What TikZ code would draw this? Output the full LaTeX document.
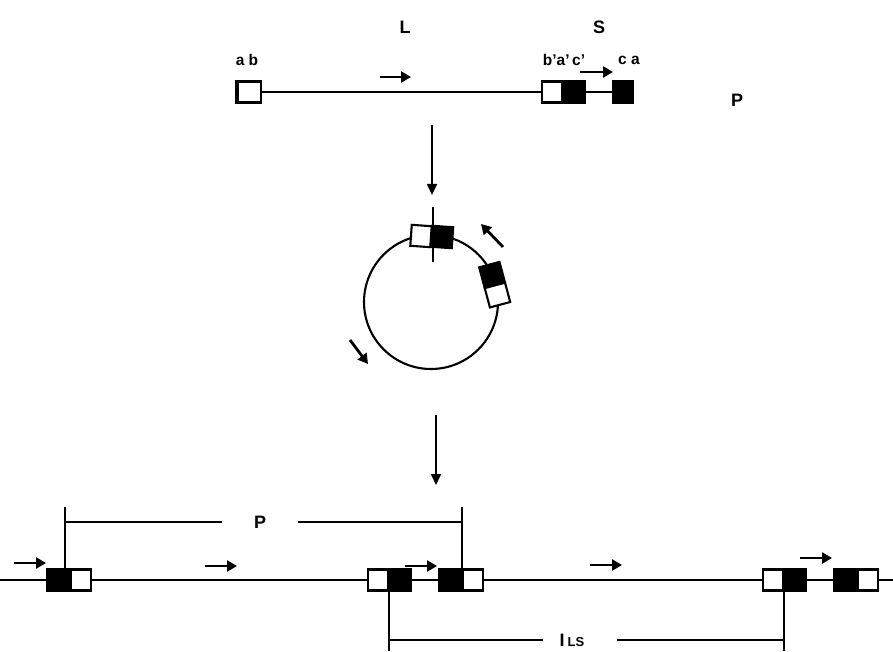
\documentclass[tikz,border=0pt]{standalone}
\usepackage{fontspec}
\setmainfont{Liberation Sans}
\usetikzlibrary{arrows.meta,positioning,calc}

\begin{document}
\begin{tikzpicture}[x=1pt,y=1pt,line width=2.1pt,font=\bfseries,node distance=0pt]
  \tikzset{
    whalf/.style={draw,fill=white,minimum width=20pt,minimum height=21pt,inner sep=0pt},
    bhalf/.style={draw,fill=black,minimum width=21pt,minimum height=21pt,inner sep=0pt},
    lbl/.style={font=\fontsize{15.5}{18}\selectfont\bfseries,inner sep=0pt},
    big/.style={font=\fontsize{18}{21}\selectfont\bfseries,inner sep=0pt},
    dir/.style={line width=2.8pt,-{Triangle[length=10pt,width=11pt]}},
    vert arrow/.style={line width=1.8pt,-{Triangle[length=11pt,width=10pt]}}
  }
  \useasboundingbox (0,0) rectangle (893,651);
  % linear monomer
  \node[whalf,minimum width=24pt] (ab) at (249,559) {};
  \draw[line width=4pt] ([xshift=1.5pt]ab.north west) -- ([xshift=1.5pt]ab.south west);
  \node[whalf] (bp) at (552,559) {};
  \node[bhalf,right=of bp] (ap) {};
  \node[bhalf,minimum width=19pt] (ca) at (623,559) {};
  \draw (ab.east) -- (bp.west);
  \draw (ap.east) -- (ca.west);
  \node[lbl] at (247,591) {a b};
  \node[lbl] at (564,591) {b'a'\,c'};
  \node[lbl] at (629,591) {c a};
  \node[big] at (405,624) {L};
  \node[big] at (599,624) {S};
  \node[big] at (737,551) {P};
  \draw[dir] (380,574) -- (411,574);
  \draw[dir] (580,579) -- (613,579);
  % circularisation
  \coordinate (s1) at (432,526);
  \coordinate (e1) at (432,456);
  \draw[vert arrow] (s1) -- (e1);
  \node[circle,draw,minimum size=134pt,inner sep=0pt] (ring) at (431,349) {};
  \node[whalf,rotate=-4] (cw) at (421,415) {};
  \node[bhalf,rotate=-4] (cb) at (442,414) {};
  \draw[line width=1.8pt] (433,444) -- (433,389);
  \coordinate (side) at ($(ring.center)+(15:66)$);
  \node[bhalf,rotate=105] (sb) at ([shift={(105:10.5)}]side) {};
  \node[whalf,rotate=105] (sw) at ([shift={(-75:10.5)}]side) {};
  \draw[dir] (503,404) -- (481,427);
  \draw[dir] (350,311) -- (368,287);
  \coordinate (s2) at (436,236);
  \coordinate (e2) at (436,166);
  \draw[vert arrow] (s2) -- (e2);
  % concatemer
  \coordinate (lend) at (0,71);
  \coordinate (rend) at (893,71);
  \node[bhalf] (b1) at (58,71) {};
  \node[whalf,right=of b1] (w1) {};
  \node[whalf] (w2) at (378,71) {};
  \node[bhalf,right=of w2] (b2) {};
  \node[bhalf] (b3) at (450,71) {};
  \node[whalf,right=of b3] (w3) {};
  \node[whalf] (w4) at (773,71) {};
  \node[bhalf,right=of w4] (b4) {};
  \node[bhalf] (b5) at (845,71) {};
  \node[whalf,right=of b5] (w5) {};
  \draw (lend) -- (b1.west);
  \draw (w1.east) -- (w2.west);
  \draw (b2.east) -- (b3.west);
  \draw (w3.east) -- (w4.west);
  \draw (b4.east) -- (b5.west);
  \draw (w5.east) -- (rend);
  \foreach \xa/\ya in {14/88,205/85,405/85,590/86,800/93}
    \draw[dir] (\xa,\ya) -- ++(32,0);
  % unit lengths
  \node[big] (plen) at (260,129) {P};
  \draw ([xshift=-5pt]b1.north east) -- ([xshift=-5pt]b1.north east |- 0,144);
  \draw (b3.north east) -- (b3.north east |- 0,144);
  \draw ([xshift=-5pt]b1.north east |- plen) -- ([xshift=-38pt]plen.center);
  \draw ([xshift=38pt]plen.center) -- (b3.north east |- plen);
  \node[big] (ilen) at (572,11) {I\,{\fontsize{13}{15}\selectfont LS}};
  \draw (w2.south east) -- (w2.south east |- 0,0);
  \draw (w4.south east) -- (w4.south east |- 0,0);
  \draw (w2.south east |- ilen) -- ([xshift=-29pt]ilen.center);
  \draw ([xshift=45pt]ilen.center) -- (w4.south east |- ilen);
\end{tikzpicture}
\end{document}
